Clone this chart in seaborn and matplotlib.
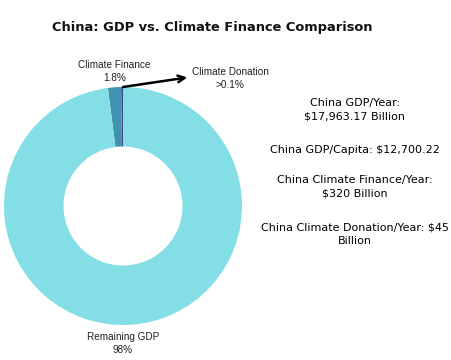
import matplotlib
matplotlib.use("Agg")
import matplotlib.pyplot as plt
import seaborn as sns

# values in billions of USD
labels = ["Climate Donation", "Climate Finance", "Remaining GDP"]
gdp_total = 17963.17
climate_finance = 320
climate_donation = 45
values = [climate_donation, climate_finance, gdp_total - climate_finance - climate_donation]
pct_labels = [">0.1%", "1.8%", "98%"]
colors = ["#4a3f8f", "#3f93ad", "#84dee6"]

info_lines = [
    "China GDP/Year:\n$17,963.17 Billion",
    "China GDP/Capita: $12,700.22",
    "China Climate Finance/Year:\n$320 Billion",
    "China Climate Donation/Year: $45\nBillion",
]

sns.set_theme(style="white")
plt.rcParams["font.family"] = ["DejaVu Sans"]

fig = plt.figure(figsize=(4.52, 3.6), dpi=100)
ax = fig.add_axes([3 / 452, 35 / 360, 240 / 452, 238 / 360])

ax.pie(values, colors=colors, startangle=90, counterclock=True,
       wedgeprops=dict(width=0.5, linewidth=0))
ax.set_xlim(-1, 1)
ax.set_ylim(-1, 1)
ax.axis("off")

lab_font = dict(family="Liberation Sans", fontsize=7.2, color="#222222", ha="center", va="center",
                linespacing=1.35)
ax.text(-0.07, 1.13, f"{labels[1]}\n{pct_labels[1]}", **lab_font)
ax.text(0.0, -1.155, f"{labels[2]}\n{pct_labels[2]}", **lab_font)
ax.text(0.90, 1.07, f"{labels[0]}\n{pct_labels[0]}", **lab_font)
ax.annotate("", xy=(0.54, 1.08), xytext=(0.0, 1.0), annotation_clip=False,
            arrowprops=dict(arrowstyle="->", color="black", lw=1.8,
                            shrinkA=0, shrinkB=0, mutation_scale=12))

fig.text(212 / 452, 1 - 27 / 360, "China: GDP vs. Climate Finance Comparison",
         ha="center", va="center", fontsize=9.4, fontweight="bold", color="#111111")

ys = [110, 150, 187, 234]
for y, line in zip(ys, info_lines):
    fig.text(355 / 452, 1 - y / 360, line, ha="center", va="center", fontsize=8,
             color="#000000", linespacing=1.45)

fig.savefig("out.png", dpi=100)
